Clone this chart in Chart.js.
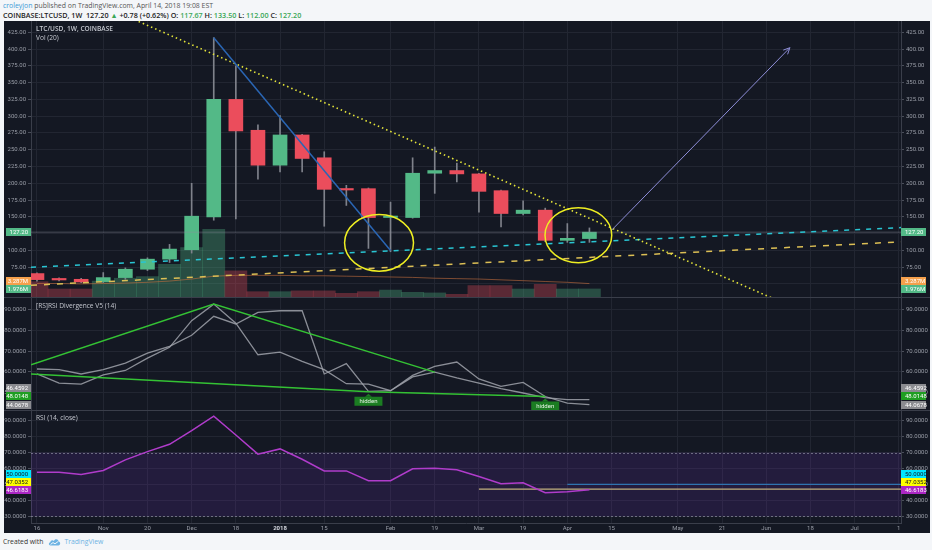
<!DOCTYPE html>
<html>
<head>
<meta charset="utf-8">
<title>LTC/USD 1W</title>
<script src="https://cdn.jsdelivr.net/npm/chart.js@4.4.1/dist/chart.umd.min.js"></script>
<style>
  html, body { margin:0; padding:0; }
  body { width:932px; height:550px; background:#f4f6f9; position:relative; overflow:hidden; font-family:'Open Sans', sans-serif; }
  .hdr { position:absolute; left:3px; line-height:8px; color:#555; white-space:nowrap; }
  #h1 { top:2px; font-size:6.9px; }
  #h2 { top:11px; font-size:7.2px; font-weight:600; color:#222; }
  #h1 .user { color:#3d9ad6; }
  .g { color:#3aa757; }
  #frame { position:absolute; left:4px; top:21px; width:926px; height:512px; background:#141823; }
  #frame canvas { position:absolute; left:0; }
  .sep { position:absolute; left:0; width:926px; height:1px; background:#3a3e4a; }
  .ptitle { position:absolute; left:32px; color:#c5c8d0; font-size:6.6px; line-height:8px; white-space:nowrap; z-index:2; }
  #foot { position:absolute; left:3px; top:537px; font-size:6.8px; line-height:9px; color:#333; white-space:nowrap; }
  #foot svg { vertical-align:middle; margin:0 3px 0 5px; }
  #foot .tv { color:#6db3e3; }
</style>
</head>
<body>
<div class="hdr" id="h1"><span class="user">croleyjon</span> published on TradingView.com, April 14, 2018 19:08 EST</div>
<div class="hdr" id="h2">COINBASE:LTCUSD, 1W&nbsp; 127.20 <span class="g">&#9650;</span> +0.78 (+0.62%) O: <span class="g" id="vO"></span> H: <span class="g" id="vH"></span> L: <span class="g" id="vL"></span> C: <span class="g" id="vC"></span></div>

<div id="frame">
  <canvas id="c1" width="926" height="276" style="top:0"></canvas>
  <div class="sep" style="top:276px"></div>
  <canvas id="c2" width="926" height="112" style="top:277px"></canvas>
  <div class="sep" style="top:389px"></div>
  <canvas id="c3" width="926" height="122" style="top:390px"></canvas>
  <div class="ptitle" style="top:4px;font-weight:600">LTC/USD, 1W, COINBASE</div>
  <div class="ptitle" style="top:13px">Vol (20)</div>
  <div class="ptitle" style="top:281px">[RS]RSI Divergence V5 (14)</div>
  <div class="ptitle" style="top:393px">RSI (14, close)</div>
</div>

<div id="foot">Created with<svg width="13" height="8" viewBox="0 0 13 8"><path d="M2.5 7.5 C0.5 7.5 0.3 4.6 2.3 4.3 C2.4 2.2 4.8 1.6 5.9 3 C6.8 0.6 10.4 0.9 10.6 3.6 C12.8 3.8 12.7 7.5 10.4 7.5 Z" fill="#6db3e3"/><path d="M2.6 6.4 L5 4.6 L7 5.8 L10.3 3.4" stroke="#fff" stroke-width="0.9" fill="none"/></svg><span class="tv">TradingView</span></div>

<script>
// weekly candles, LTC/USD Coinbase, week of Oct 16 2017 .. Apr 9 2018
const opens  = [65.5, 56.5, 57, 53.5, 59.5, 72, 87, 101, 150, 325, 279, 227, 272, 238, 191, 192, 149, 149, 215, 219, 214, 189, 155, 160, 115, 117.67];
const highs  = [66.5, 59, 58.5, 67, 74, 89, 109, 200, 417, 375, 287, 301, 273, 247, 197, 193, 172, 238, 254, 230, 215, 190, 174, 163, 140, 133.5];
const lows   = [54, 54.5, 52, 52, 57, 70, 82, 96, 145, 147, 206, 217, 217, 136, 167, 103, 98, 148, 185, 202, 157, 135, 153, 113, 112, 112];
const closes = [56.5, 56, 53, 59.5, 72, 87, 102, 151, 325, 278, 227, 272, 237, 191, 190, 149, 150, 215, 219, 214, 188, 155, 160, 115, 118, 127.2];
// volume in millions, and its 20 week average
const volumes = [3.75, 1.96, 1.96, 3.9, 4.6, 5.0, 8.0, 12.1, 16.6, 6.4, 1.3, 1.3, 1.5, 1.5, 0.9, 1.3, 1.7, 1.15, 1.0, 0.66, 2.8, 2.8, 1.96, 3.1, 1.96, 1.976];
const volMA   = [3.3, 3.3, 3.2, 3.3, 3.4, 3.6, 3.9, 4.4, 5.1, 5.3, 5.3, 5.3, 5.2, 5.2, 5.1, 5.0, 4.9, 4.8, 4.6, 4.5, 4.4, 4.2, 4.0, 3.8, 3.6, 3.287];
// RSI divergence pane
const divFast = [61.3, 61, 58.9, 61, 64.2, 69, 72.3, 77.6, 86.8, 83.1, 88.7, 89.5, 89.5, 58.9, 63.9, 50.5, 50.8, 58.2, 62.6, 64.7, 56.5, 52.9, 54.8, 48, 44.8, 44.0678];
const divSlow = [58.9, 54.5, 54, 58.5, 60.6, 66.6, 71.8, 84.7, 92.7, 83.5, 68.2, 69.5, 65, 61, 54.2, 54, 50.8, 57.5, 59.8, 57, 54.5, 51.8, 49.7, 47.5, 46.5, 46.4592];
const divUpper = [[-0.27, 63.4], [8, 92.7], [18, 59.8]];
const divLower = [[-0.27, 58.9], [15, 50.3], [23, 48.0148]];
// RSI (14, close)
const rsi = [57.7, 57.7, 56.3, 58.8, 65.4, 70.6, 75.2, 83.8, 92.9, 81, 69, 72.3, 65.8, 58.5, 58.5, 52.3, 52.3, 59.8, 60.2, 59.2, 55, 50.4, 51, 44.8, 45.4, 46.6183];
const rsiRayBlue = [[24, 50], [39.1, 50]];
const rsiRayTan  = [[20, 47.0352], [39.1, 47.0352]];
// drawings on the price pane: [week index, price]
const cyanTrend   = [[-0.27, 75], [39.1, 134]];
const yellowTrend = [[-0.27, 48], [39.1, 112.8]];
const dottedTrend = [[4.6, 441], [34, 18.5]];
const blueTrend   = [[8, 417], [16, 100]];
const arrowUp     = [[26, 130], [34.07, 402]];
const circles     = [[15.48, 111.3, 1.56, 42.2], [24.5, 122.7, 1.51, 41]]; // centre x, centre y, radius x, radius y
// axes
const tickIdx    = [0, 3, 5, 7, 9, 11, 13, 16, 18, 20, 22, 24, 26, 29, 31, 33, 35, 37, 39];
const tickLabels = ['16', 'Nov', '20', 'Dec', '18', '2018', '15', 'Feb', '19', 'Mar', '19', 'Apr', '15', 'May', '21', 'Jun', '18', 'Jul', '1'];
const priceTicks = [50, 75, 100, 125, 150, 175, 200, 225, 250, 275, 300, 325, 350, 375, 400, 425];
const divTicks   = [50, 60, 70, 80, 90];
const rsiTicks   = [30, 40, 50, 60, 70, 80, 90];

document.getElementById('vO').textContent = opens[25].toFixed(2);
document.getElementById('vH').textContent = highs[25].toFixed(2);
document.getElementById('vL').textContent = lows[25].toFixed(2);
document.getElementById('vC').textContent = closes[25].toFixed(2);

const FONT = 'Roboto';
const GRID = '#222632';
const AXIS = '#3a3e4a';
const TICK = '#9a9ea8';
const UP = '#53b987', DOWN = '#eb4d5c';

const idx = opens.map((_, i) => i);
const up = idx.map(i => closes[i] >= opens[i]);
const pts = arr => arr.map(p => ({ x: p[0], y: p[1] }));
const series = arr => arr.map((v, i) => ({ x: i, y: v }));

function xScale(showLabels) {
  return {
    type: 'linear', min: -0.27, max: 39.1, offset: false, position: 'bottom',
    afterBuildTicks: s => { s.ticks = tickIdx.map(v => ({ value: v })); },
    afterFit: s => { s.height = showLabels ? 10 : 0; s.paddingLeft = 0; s.paddingRight = 0; },
    grid: { color: GRID, drawTicks: false, offset: false },
    border: { display: showLabels, color: AXIS },
    ticks: {
      display: showLabels, autoSkip: false, maxRotation: 0, padding: 2,
      color: c => tickLabels[c.index] === '2018' ? '#d6d9e0' : TICK,
      font: c => ({ family: FONT, size: 6, weight: tickLabels[c.index] === '2018' ? 'bold' : 'normal' }),
      callback: v => tickLabels[tickIdx.indexOf(v)]
    }
  };
}

function yScale(pos, min, max, ticks, digits, width, grid) {
  return {
    type: 'linear', position: pos, min: min, max: max,
    afterBuildTicks: s => { s.ticks = ticks.map(v => ({ value: v })); },
    afterFit: s => { s.width = width; s.paddingTop = 0; s.paddingBottom = 0; },
    grid: { color: GRID, drawOnChartArea: grid, drawTicks: true, tickLength: 3, tickColor: '#4a4e5a' },
    border: { display: true, color: AXIS },
    ticks: { color: TICK, font: { family: FONT, size: 6 }, padding: 2, autoSkip: false, callback: v => v.toFixed(digits) }
  };
}

function lineSet(data, axis, color, width, dash, order) {
  return { type: 'line', yAxisID: axis, data: data, borderColor: color, borderWidth: width,
           borderDash: dash || [], pointRadius: 0, fill: false, tension: 0, order: order || 1 };
}

// coloured value boxes on both price scales, listed top to bottom
function valueBoxes(items) {
  return {
    id: 'valueBoxes',
    afterDraw(chart) {
      const ctx = chart.ctx, a = chart.chartArea, H = 8;
      const ys = items.map(it => chart.scales[it.axis].getPixelForValue(it.value));
      for (let i = ys.length - 2; i >= 0; i--) ys[i] = Math.min(ys[i], ys[i + 1] - H);
      ctx.save();
      ctx.font = '6px ' + FONT;
      ctx.textBaseline = 'middle';
      items.forEach((it, i) => {
        const y = Math.round(ys[i] - H / 2);
        ctx.fillStyle = it.bg;
        ctx.fillRect(2, y, a.left - 2, H);
        ctx.fillRect(a.right, y, 25, H);
        ctx.fillStyle = it.fg;
        ctx.textAlign = 'right';
        ctx.fillText(it.text, a.left - 3, y + H / 2 + 0.5);
        ctx.textAlign = 'left';
        ctx.fillText(it.text, a.right + 4, y + H / 2 + 0.5);
      });
      ctx.restore();
    }
  };
}

const baseOptions = {
  responsive: false, animation: false, events: [],
  layout: { padding: 0 },
  plugins: { legend: { display: false }, tooltip: { enabled: false } }
};

// ---------- price + volume ----------
const drawings = {
  id: 'drawings',
  afterDatasetsDraw(chart) {
    const ctx = chart.ctx, xs = chart.scales.x, ys = chart.scales.yR, a = chart.chartArea;
    ctx.save();
    ctx.beginPath();
    ctx.rect(a.left, a.top, a.right - a.left, a.bottom - a.top);
    ctx.clip();
    ctx.strokeStyle = '#eeee22';
    ctx.lineWidth = 1.5;
    circles.forEach(c => {
      const cx = xs.getPixelForValue(c[0]), cy = ys.getPixelForValue(c[1]);
      const rx = Math.abs(xs.getPixelForValue(c[0] + c[2]) - cx);
      const ry = Math.abs(ys.getPixelForValue(c[1] + c[3]) - cy);
      ctx.beginPath();
      ctx.ellipse(cx, cy, rx, ry, 0, 0, Math.PI * 2);
      ctx.stroke();
    });
    // arrow head
    const x0 = xs.getPixelForValue(arrowUp[0][0]), y0 = ys.getPixelForValue(arrowUp[0][1]);
    const x1 = xs.getPixelForValue(arrowUp[1][0]), y1 = ys.getPixelForValue(arrowUp[1][1]);
    const ang = Math.atan2(y1 - y0, x1 - x0);
    ctx.strokeStyle = '#8e8ed8';
    ctx.lineWidth = 1;
    ctx.beginPath();
    ctx.moveTo(x1 - 7 * Math.cos(ang - 0.45), y1 - 7 * Math.sin(ang - 0.45));
    ctx.lineTo(x1, y1);
    ctx.lineTo(x1 - 7 * Math.cos(ang + 0.45), y1 - 7 * Math.sin(ang + 0.45));
    ctx.stroke();
    ctx.restore();
  }
};

new Chart(document.getElementById('c1'), {
  type: 'bar',
  data: {
    datasets: [
      { type: 'bar', yAxisID: 'yVol', order: 10, grouped: false, barPercentage: 1, categoryPercentage: 1,
        data: series(volumes),
        backgroundColor: idx.map(i => up[i] ? 'rgba(83,185,135,0.33)' : 'rgba(235,77,92,0.33)') },
      lineSet(series(volMA), 'yVol', 'rgba(196,110,62,0.6)', 1, null, 9),
      { type: 'bar', yAxisID: 'yR', order: 8, grouped: false, barThickness: 1,
        data: idx.map(i => ({ x: i, y: [lows[i], highs[i]] })), backgroundColor: '#7f828b' },
      { type: 'bar', yAxisID: 'yR', order: 7, grouped: false, barThickness: 14, minBarLength: 1.5,
        data: idx.map(i => ({ x: i, y: [opens[i], closes[i]] })),
        backgroundColor: idx.map(i => up[i] ? UP : DOWN) },
      lineSet(pts([[-0.27, closes[25]], [39.1, closes[25]]]), 'yR', 'rgba(140,145,155,0.45)', 1, null, 6),
      lineSet(pts(cyanTrend), 'yR', '#29c5d3', 1.5, [5, 6], 5),
      lineSet(pts(yellowTrend), 'yR', '#dcbf55', 1.5, [6, 7], 5),
      lineSet(pts(dottedTrend), 'yR', '#e6e63a', 1.6, [1.5, 3], 4),
      lineSet(pts(blueTrend), 'yR', '#2a66b4', 1.5, null, 3),
      lineSet(pts(arrowUp), 'yR', '#8e8ed8', 1, null, 2)
    ]
  },
  options: Object.assign({}, baseOptions, {
    scales: {
      x: xScale(false),
      yR: yScale('right', 30.6, 441.8, priceTicks, 2, 29, true),
      yL: yScale('left', 30.6, 441.8, priceTicks, 2, 27, false),
      yVol: { display: false, min: 0, max: 67.6 }
    }
  }),
  plugins: [drawings, valueBoxes([
    { axis: 'yR', value: closes[25], text: closes[25].toFixed(2), bg: UP, fg: '#ffffff' },
    { axis: 'yVol', value: volMA[25], text: volMA[25].toFixed(3) + 'M', bg: '#f5a04c', fg: '#ffffff' },
    { axis: 'yVol', value: volumes[25], text: volumes[25].toFixed(3) + 'M', bg: UP, fg: '#ffffff' }
  ])]
});

// ---------- RSI divergence ----------
const hiddenTags = {
  id: 'hiddenTags',
  afterDatasetsDraw(chart) {
    const ctx = chart.ctx, xs = chart.scales.x, ys = chart.scales.yR;
    ctx.save();
    ctx.font = '6px ' + FONT;
    ctx.textAlign = 'center';
    ctx.textBaseline = 'middle';
    divLower.slice(1).forEach(p => {
      const x = xs.getPixelForValue(p[0]), y = ys.getPixelForValue(p[1]) + 5;
      ctx.fillStyle = '#1b7d22';
      ctx.beginPath();
      ctx.moveTo(x, y - 3); ctx.lineTo(x + 3.5, y); ctx.lineTo(x - 3.5, y); ctx.closePath();
      ctx.fill();
      ctx.fillRect(x - 14, y, 28, 9);
      ctx.fillStyle = '#e6f3e6';
      ctx.fillText('hidden', x, y + 4.8);
    });
    ctx.restore();
  }
};

new Chart(document.getElementById('c2'), {
  type: 'line',
  data: {
    datasets: [
      lineSet(series(divFast), 'yR', 'rgba(160,163,172,0.85)', 1.3, null, 3),
      lineSet(series(divSlow), 'yR', 'rgba(160,163,172,0.85)', 1.3, null, 3),
      lineSet(pts(divUpper), 'yR', '#34c234', 1.5, null, 1),
      lineSet(pts(divLower), 'yR', '#34c234', 1.5, null, 1)
    ]
  },
  options: Object.assign({}, baseOptions, {
    scales: {
      x: xScale(false),
      yR: yScale('right', 41.47, 95.66, divTicks, 4, 29, true),
      yL: yScale('left', 41.47, 95.66, divTicks, 4, 27, false)
    }
  }),
  plugins: [hiddenTags, valueBoxes([
    { axis: 'yR', value: divSlow[25], text: divSlow[25].toFixed(4), bg: '#8a8b90', fg: '#ffffff' },
    { axis: 'yR', value: divLower[2][1], text: divLower[2][1].toFixed(4), bg: '#1f9e22', fg: '#ffffff' },
    { axis: 'yR', value: divFast[25], text: divFast[25].toFixed(4), bg: '#8a8b90', fg: '#ffffff' }
  ])]
});

// ---------- RSI ----------
const rsiBand = {
  id: 'rsiBand',
  beforeDatasetsDraw(chart) {
    const ctx = chart.ctx, ys = chart.scales.yR, a = chart.chartArea;
    const y70 = ys.getPixelForValue(70), y30 = ys.getPixelForValue(30);
    ctx.save();
    ctx.fillStyle = 'rgba(120,50,200,0.16)';
    ctx.fillRect(a.left, y70, a.right - a.left, y30 - y70);
    ctx.strokeStyle = 'rgba(160,160,178,0.6)';
    ctx.lineWidth = 1;
    ctx.setLineDash([2, 2]);
    [y70, y30].forEach(y => {
      ctx.beginPath();
      ctx.moveTo(a.left, Math.round(y) + 0.5);
      ctx.lineTo(a.right, Math.round(y) + 0.5);
      ctx.stroke();
    });
    ctx.restore();
  }
};

new Chart(document.getElementById('c3'), {
  type: 'line',
  data: {
    datasets: [
      lineSet(pts(rsiRayBlue), 'yR', '#2f74b0', 1.2, null, 2),
      lineSet(pts(rsiRayTan), 'yR', '#c2b07e', 1.2, null, 2),
      lineSet(series(rsi), 'yR', '#b03ccb', 1.5, null, 1)
    ]
  },
  options: Object.assign({}, baseOptions, {
    scales: {
      x: xScale(true),
      yR: yScale('right', 25.8, 96.09, rsiTicks, 4, 29, true),
      yL: yScale('left', 25.8, 96.09, rsiTicks, 4, 27, false)
    }
  }),
  plugins: [rsiBand, valueBoxes([
    { axis: 'yR', value: rsiRayBlue[0][1], text: rsiRayBlue[0][1].toFixed(4), bg: '#00e5ff', fg: '#131722' },
    { axis: 'yR', value: rsiRayTan[0][1], text: rsiRayTan[0][1].toFixed(4), bg: '#ffff00', fg: '#131722' },
    { axis: 'yR', value: rsi[25], text: rsi[25].toFixed(4), bg: '#ab27c4', fg: '#ffffff' }
  ])]
});
</script>
</body>
</html>
